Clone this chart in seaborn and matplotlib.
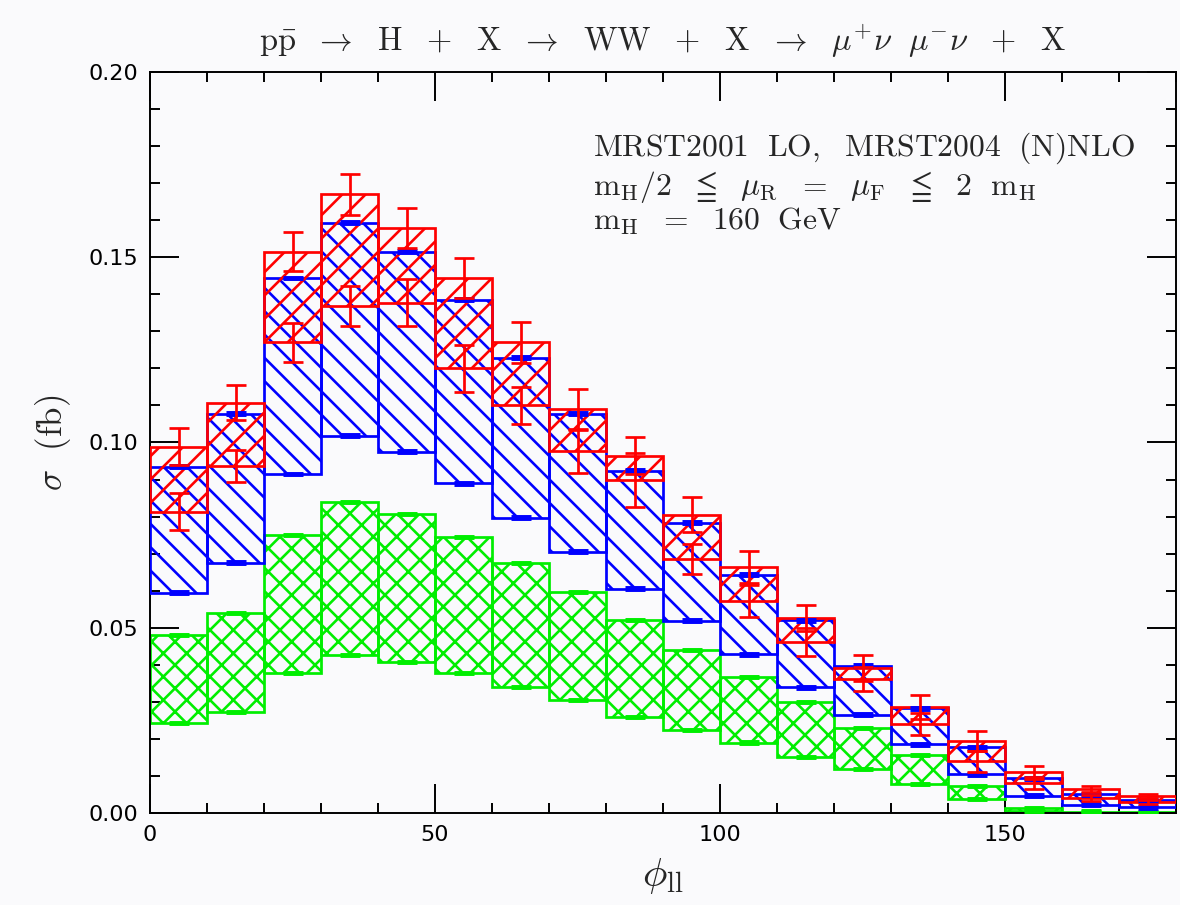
import numpy as np
import pandas as pd
import matplotlib
matplotlib.use("Agg")
import matplotlib.pyplot as plt
import seaborn as sns
from matplotlib.ticker import MultipleLocator

# ---- data ----
bin_edges = np.arange(0, 190, 10)
bin_centers = bin_edges[:-1] + 5

lo_upper = [0.048, 0.054, 0.075, 0.084, 0.0807, 0.0745, 0.0675, 0.0597, 0.052,
            0.044, 0.0367, 0.030, 0.023, 0.0157, 0.0073, 0.0013, 0.0004, 0.0003]
lo_lower = [0.0243, 0.0273, 0.0378, 0.0427, 0.0408, 0.0378, 0.034, 0.0305, 0.026,
            0.0224, 0.019, 0.0151, 0.0119, 0.0078, 0.0038, 0.0006, 0.0002, 0.0001]

nlo_upper = [0.0934, 0.1077, 0.1444, 0.1593, 0.1515, 0.1385, 0.1229, 0.1077, 0.0924,
             0.0783, 0.0643, 0.052, 0.0397, 0.0283, 0.0178, 0.0094, 0.0051, 0.0035]
nlo_lower = [0.0594, 0.0675, 0.0915, 0.1018, 0.0975, 0.089, 0.0797, 0.0705, 0.0605,
             0.0519, 0.0429, 0.034, 0.0265, 0.0186, 0.0105, 0.0046, 0.0022, 0.0016]

nnlo_upper = [0.0988, 0.1107, 0.1515, 0.167, 0.158, 0.1444, 0.127, 0.109, 0.0964,
              0.0805, 0.0664, 0.0526, 0.0391, 0.0286, 0.0194, 0.011, 0.0065, 0.0046]
nnlo_lower = [0.0813, 0.0937, 0.127, 0.1369, 0.1377, 0.12, 0.110, 0.0977, 0.0899,
              0.0686, 0.0572, 0.0462, 0.0362, 0.024, 0.014, 0.0081, 0.0041, 0.003]

nnlo_err_upper = [0.005, 0.0047, 0.0052, 0.0055, 0.0054, 0.0054, 0.0055, 0.0054, 0.005,
                  0.0047, 0.0042, 0.0036, 0.0035, 0.0033, 0.0027, 0.0017, 0.0008, 0.0005]
nnlo_err_lower = [0.005, 0.0044, 0.0053, 0.0054, 0.0063, 0.0064, 0.005, 0.0058, 0.0073,
                  0.0041, 0.0044, 0.0038, 0.0032, 0.003, 0.0028, 0.0017, 0.0008, 0.0005]
nlo_err = 0.0004
lo_err = 0.0003

x_label = r'$\phi_{\mathrm{ll}}$'
y_label = r'$\sigma\ \ \mathrm{(fb)}$'
title = (r'$\mathrm{p\bar{p}}\ \ \rightarrow\ \ \mathrm{H}\ \ +\ \ \mathrm{X}\ \ \rightarrow\ \ '
         r'\mathrm{WW}\ \ +\ \ \mathrm{X}\ \ \rightarrow\ \ \mu^{+}\nu\ \ \mu^{-}\nu\ \ +\ \ \mathrm{X}$')
info_lines = [r'$\mathrm{MRST2001\ \ LO,\ \ MRST2004\ \ (N)NLO}$',
              r'$\mathrm{m_H/2\ \ \leqq\ \ \mu_R\ \ =\ \ \mu_F\ \ \leqq\ \ 2\ \ m_H}$',
              r'$\mathrm{m_H\ \ =\ \ 160\ \ GeV}$']

# ---- style ----
DPI = 70
sns.set_theme(style="ticks")
plt.rcParams['font.family'] = ['DejaVu Sans']
plt.rcParams['mathtext.fontset'] = 'cm'
plt.rcParams['hatch.linewidth'] = 2.7

bg = '#fafafc'
fig = plt.figure(figsize=(1180 / DPI, 905 / DPI), dpi=DPI, facecolor=bg)
ax = fig.add_axes([150 / 1180, 1 - 813 / 905, 1026 / 1180, (813 - 72) / 905])
ax.set_facecolor(bg)

LW = 2.8


def band(lower, upper, color, hatch, z):
    df = pd.DataFrame({'x': bin_centers,
                       'h': np.asarray(upper) - np.asarray(lower)})
    sns.barplot(data=df, x='x', y='h', native_scale=True, width=1.0,
                fill=False, color=color, errorbar=None, ax=ax,
                bottom=np.asarray(lower), hatch=hatch, linewidth=LW,
                zorder=z)


band(lo_lower, lo_upper, '#00ee00', 'x', 2)
band(nlo_lower, nlo_upper, '#0000ff', '\\', 3)
band(nnlo_lower, nnlo_upper, '#ff0000', '/', 4)

# small statistical error marks
for vals, err, col in [(lo_upper, lo_err, '#00ee00'), (lo_lower, lo_err, '#00ee00'),
                       (nlo_upper, nlo_err, '#0000ff'), (nlo_lower, nlo_err, '#0000ff')]:
    ax.errorbar(bin_centers, vals, yerr=err, fmt='none', ecolor=col,
                elinewidth=LW, capsize=10, capthick=3, zorder=5)

ax.errorbar(bin_centers, nnlo_upper, yerr=nnlo_err_upper, fmt='none', ecolor='#ff0000',
            elinewidth=LW, capsize=10.5, capthick=LW, zorder=6)
ax.errorbar(bin_centers, nnlo_lower, yerr=nnlo_err_lower, fmt='none', ecolor='#ff0000',
            elinewidth=LW, capsize=10.5, capthick=LW, zorder=6)

ax.set_xlim(0, 180)
ax.set_ylim(0, 0.2)
ax.xaxis.set_major_locator(MultipleLocator(50))
ax.xaxis.set_minor_locator(MultipleLocator(10))
ax.yaxis.set_major_locator(MultipleLocator(0.05))
ax.yaxis.set_minor_locator(MultipleLocator(0.01))
ax.yaxis.set_major_formatter(plt.FormatStrFormatter('%.2f'))
ax.tick_params(which='both', direction='in', top=True, right=True, width=2,
               colors='black', labelsize=23)
ax.tick_params(which='major', length=30, pad=12)
ax.tick_params(which='minor', length=10)
for s in ax.spines.values():
    s.set_linewidth(2)
    s.set_color('black')

ax.set_xlabel(x_label, fontsize=42, labelpad=12)
ax.set_ylabel(y_label, fontsize=36, labelpad=16)
ax.set_title(title, fontsize=33.5, pad=22)

for i, (line, yy) in enumerate(zip(info_lines, [0.897, 0.845, 0.799])):
    ax.text(0.432, yy, line, transform=ax.transAxes,
            fontsize=32.5, ha='left', va='center', zorder=10)

fig.savefig('out.png', dpi=DPI, facecolor=bg)
